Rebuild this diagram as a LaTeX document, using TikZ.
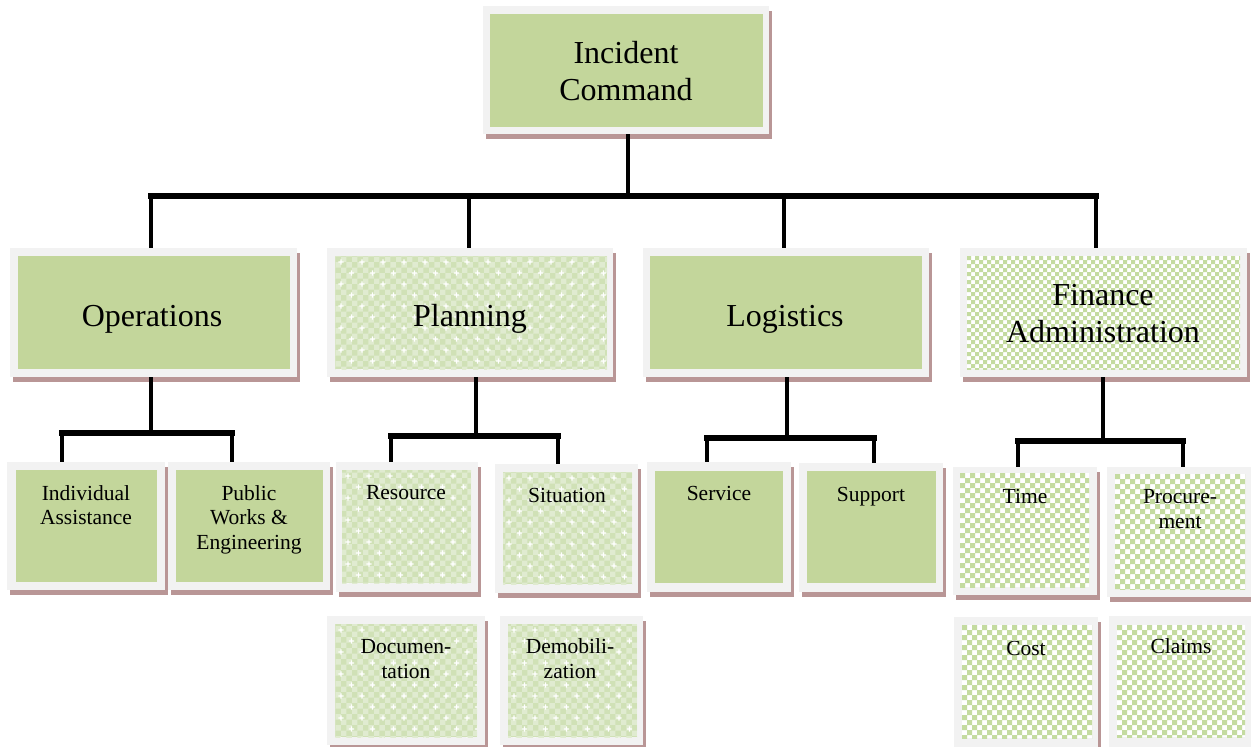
\documentclass[tikz,border=0pt]{standalone}
\usepackage{fontspec}
\setmainfont{Liberation Serif}
\usetikzlibrary{patterns,fit}

\definecolor{boxgreen}{HTML}{C3D69B}
\definecolor{framegray}{HTML}{F2F2F2}
\definecolor{shadowrose}{RGB}{185,150,150}
\definecolor{planbase}{HTML}{D0E1B6}
\definecolor{planlight}{HTML}{E0EBD0}
\definecolor{checkgreen}{HTML}{C4DBA0}

\tikzset{
  x=1pt, y=-1pt,
  connv/.style={line width=4pt},
  connh/.style={line width=5.5pt, line cap=rect},
  bigtext/.style={font=\fontsize{32}{37}\selectfont, align=center, inner sep=0pt, anchor=base},
  smalltext/.style={font=\fontsize{21.5}{24.5}\selectfont, align=center, inner sep=0pt, anchor=base},
  framebox/.style={fill=framegray, draw=none, inner sep=0pt},
}

% light grey frame with a rose drop shadow: name, x1, y1, x2, y2
\newcommand\orgframe[5]{%
  \fill[shadowrose] ({#2+3},{#3+5}) rectangle ({#4+3},{#5+5});
  \node[framebox, fit={(#2,#3) (#4,#5)}] (#1) {};
}
% plain green panel
\newcommand\solidinner[4]{\fill[boxgreen] (#1,#2) rectangle (#3,#4);}
% fine green check with white sparkles
\newcommand\sparkleinner[4]{%
  \fill[planbase] (#1,#2) rectangle (#3,#4);
  \fill[pattern=checkerboard, pattern color=planlight] (#1,#2) rectangle (#3,#4);
  \begin{scope}
    \clip (#1,#2) rectangle (#3,#4);
    \pgfmathtruncatemacro\spnx{(#3-#1)/21+1}
    \pgfmathtruncatemacro\spny{(#4-#2)/22+1}
    \fill[white] \foreach \i in {0,...,\spnx}{\foreach \j in {0,...,\spny}{
      ({#1+6+21*\i-2.6},{#2+6+22*\j-0.6}) rectangle ++(5.2,1.2)
      ({#1+6+21*\i-0.6},{#2+6+22*\j-2.6}) rectangle ++(1.2,5.2)
      ({#1+16.5+21*\i-2.6},{#2+17+22*\j-0.6}) rectangle ++(5.2,1.2)
      ({#1+16.5+21*\i-0.6},{#2+17+22*\j-2.6}) rectangle ++(1.2,5.2)
    }};
  \end{scope}
}
% green and white checkerboard: x1, y1, x2, y2, square size
\newcommand\checkinner[5]{%
  \fill[white] (#1,#2) rectangle (#3,#4);
  \begin{scope}
    \clip (#1,#2) rectangle (#3,#4);
    \pgfmathtruncatemacro\cknx{(#3-#1)/(2*#5)+1}
    \pgfmathtruncatemacro\ckny{(#4-#2)/(2*#5)+1}
    \fill[checkgreen] \foreach \i in {0,...,\cknx}{\foreach \j in {0,...,\ckny}{
      ({#1+2*#5*\i},{#2+2*#5*\j}) rectangle ++(#5,#5)
      ({#1+2*#5*\i+#5},{#2+2*#5*\j+#5}) rectangle ++(#5,#5)
    }};
  \end{scope}
}

\begin{document}
\begin{tikzpicture}
\useasboundingbox (0,0) rectangle (1251,747);

% ---- top ----
\orgframe{ic}{483}{6}{769}{134}
\solidinner{490}{14}{763}{127}
\node[bigtext] (ic-t) at (626,100) {Incident\\Command};

% ---- sections ----
\orgframe{ops}{10}{248}{297}{377}
\solidinner{18}{256}{290}{369}
\node[bigtext] (ops-t) at (152,326) {Operations};

\orgframe{plan}{327}{248}{613}{377}
\sparkleinner{335}{256}{607}{369}
\node[bigtext] (plan-t) at (470,326) {Planning};

\orgframe{log}{643}{248}{929}{377}
\solidinner{650}{256}{922}{369}
\node[bigtext] (log-t) at (785,326) {Logistics};

\orgframe{fin}{960}{248}{1247}{377}
\checkinner{967}{256}{1240}{369}{4}
\node[bigtext] (fin-t) at (1103,342) {Finance\\Administration};

% ---- units ----
\orgframe{ia}{7}{462}{165}{590}
\solidinner{16}{470}{157}{582}
\node[smalltext] (ia-t) at (86,524.5) {Individual\\Assistance};

\orgframe{pw}{168}{462}{330}{590}
\solidinner{176}{470}{323}{582}
\node[smalltext] (pw-t) at (249,549) {Public\\Works \&\\Engineering};

\orgframe{res}{336}{462}{478}{592}
\sparkleinner{342}{470}{471}{583}
\node[smalltext] (res-t) at (406,499) {Resource};

\orgframe{sit}{495}{464}{638}{593}
\sparkleinner{503}{472}{632}{584}
\node[smalltext] (sit-t) at (567,502) {Situation};

\orgframe{srv}{647}{462}{791}{592}
\solidinner{655}{471}{783}{583}
\node[smalltext] (srv-t) at (719,500) {Service};

\orgframe{sup}{799}{463}{943}{592}
\solidinner{807}{471}{936}{583}
\node[smalltext] (sup-t) at (871,501) {Support};

\orgframe{time}{953}{467}{1097}{595}
\checkinner{960}{473}{1089}{587}{5}
\node[smalltext] (time-t) at (1025,503) {Time};

\orgframe{proc}{1107}{467}{1251}{597}
\checkinner{1115}{474}{1245}{589}{5}
\node[smalltext] (proc-t) at (1180,528) {Procure-\\ment};

\orgframe{doc}{327}{616}{485}{745}
\sparkleinner{335}{624}{477}{737}
\node[smalltext] (doc-t) at (406,678) {Documen-\\tation};

\orgframe{demob}{500}{616}{643}{745}
\sparkleinner{508}{624}{637}{737}
\node[smalltext] (demob-t) at (570,678) {Demobili-\\zation};

\orgframe{cost}{954}{617}{1098}{747}
\checkinner{962}{625}{1092}{738}{5}
\node[smalltext] (cost-t) at (1026,655) {Cost};

\orgframe{claims}{1109}{616}{1251}{747}
\checkinner{1117}{625}{1245}{737}{5}
\node[smalltext] (claims-t) at (1181,653) {Claims};

% ---- connectors: command to sections ----
\coordinate (bus) at (628,196);
\coordinate (b1) at (151,196);
\coordinate (b2) at (469,196);
\coordinate (b3) at (784,196);
\coordinate (b4) at (1096,196);
\draw[connv] (ic.south -| bus) -- (bus);
\draw[connh] (b1) -- (b4);
\draw[connv] (b1) -- (b1 |- ops.north);
\draw[connv] (b2) -- (b2 |- plan.north);
\draw[connv] (b3) -- (b3 |- log.north);
\draw[connv] (b4) -- (b4 |- fin.north);

% ---- connectors: sections to units ----
\coordinate (o-bus) at (151,433);
\coordinate (o-l) at (62,433);
\coordinate (o-r) at (232,433);
\draw[connv] (ops.south -| o-bus) -- (o-bus);
\draw[connh] (o-l) -- (o-r);
\draw[connv] (o-l) -- (o-l |- ia.north);
\draw[connv] (o-r) -- (o-r |- pw.north);

\coordinate (p-bus) at (476,436);
\coordinate (p-l) at (391,436);
\coordinate (p-r) at (558,436);
\draw[connv] (plan.south -| p-bus) -- (p-bus);
\draw[connh] (p-l) -- (p-r);
\draw[connv] (p-l) -- (p-l |- res.north);
\draw[connv] (p-r) -- (p-r |- sit.north);

\coordinate (l-bus) at (787,438);
\coordinate (l-l) at (707,438);
\coordinate (l-r) at (874,438);
\draw[connv] (log.south -| l-bus) -- (l-bus);
\draw[connh] (l-l) -- (l-r);
\draw[connv] (l-l) -- (l-l |- srv.north);
\draw[connv] (l-r) -- (l-r |- sup.north);

\coordinate (f-bus) at (1103,441);
\coordinate (f-l) at (1018,441);
\coordinate (f-r) at (1183,441);
\draw[connv] (fin.south -| f-bus) -- (f-bus);
\draw[connh] (f-l) -- (f-r);
\draw[connv] (f-l) -- (f-l |- time.north);
\draw[connv] (f-r) -- (f-r |- proc.north);
\end{tikzpicture}
\end{document}
